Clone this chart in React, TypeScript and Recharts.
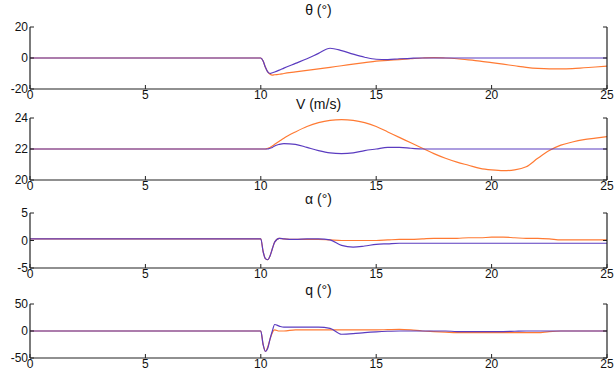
import { LineChart, Line, XAxis, YAxis } from 'recharts';

// ── Data (time in s) ────────────────────────────────────────────────────────

const TIME = [
  0, 10, 10.1, 10.2, 10.3, 10.4, 10.5, 10.6, 10.8, 11, 11.5, 12, 12.5, 13, 13.5, 14, 14.5, 15, 15.5, 16,
  16.5, 17, 17.5, 18, 18.5, 19, 19.5, 20, 20.5, 21, 21.5, 22, 22.5, 23, 23.5, 24, 24.5, 25,
];

const THETA_ORANGE = [
  0, 0, -2, -6, -9, -10.5, -11, -10.8, -10.5, -10, -9, -8, -7, -6, -5, -4, -3, -2, -1.5, -1,
  -0.5, 0, 0.3, 0, -0.5, -1.2, -2, -3, -4, -5, -6, -6.7, -7, -7, -6.8, -6.3, -5.8, -5.2,
];
const THETA_PURPLE = [
  0, 0, -2, -6, -9, -10, -9.5, -9, -7.8, -6.5, -3.5, -0.5, 3, 6.3, 4.8, 2.5, 0.5, -0.8, -1, -0.5,
  -0.2, 0, 0, 0, 0, 0, 0, 0, 0, 0, 0, 0, 0, 0, 0, 0, 0, 0,
];

const V_ORANGE = [
  22, 22, 22, 22, 22.05, 22.1, 22.2, 22.3, 22.5, 22.7, 23.1, 23.45, 23.7, 23.85, 23.9, 23.85, 23.7, 23.45, 23.1, 22.75,
  22.4, 22.05, 21.7, 21.4, 21.15, 20.95, 20.75, 20.65, 20.6, 20.65, 20.85, 21.4, 21.9, 22.25, 22.45, 22.6, 22.7, 22.8,
];
const V_PURPLE = [
  22, 22, 22, 22, 22, 22.05, 22.1, 22.2, 22.3, 22.35, 22.3, 22.1, 21.9, 21.75, 21.7, 21.75, 21.9, 22, 22.1, 22.1,
  22.05, 22, 22, 22, 22, 22, 22, 22, 22, 22, 22, 22, 22, 22, 22, 22, 22, 22,
];

const ALPHA_ORANGE = [
  0.3, 0.3, -2, -3.3, -3.5, -2.8, -1.5, -0.3, 0.4, 0.3, 0.2, 0.2, 0.2, 0.1, 0, 0, 0, 0, 0.1, 0.2,
  0.2, 0.3, 0.4, 0.4, 0.4, 0.5, 0.5, 0.6, 0.6, 0.5, 0.4, 0.4, 0.3, 0.1, 0.1, 0.1, 0.1, 0.1,
];
const ALPHA_PURPLE = [
  0.3, 0.3, -2, -3.3, -3.5, -2.8, -1.5, -0.3, 0.4, 0.3, 0.2, 0.3, 0.3, 0.1, -0.9, -1.2, -1, -0.7, -0.6, -0.5,
  -0.5, -0.5, -0.5, -0.5, -0.5, -0.5, -0.5, -0.5, -0.5, -0.5, -0.5, -0.5, -0.5, -0.5, -0.5, -0.5, -0.5, -0.5,
];

const Q_ORANGE = [
  0, 0, -25, -38, -30, -15, -3, 2, 0, 0, 2, 2, 2, 2, 2, 2, 2, 2, 2.5, 3,
  2, 0, -1, -2, -3, -3, -3, -3, -3, -3, -3, -3, -1, 0, 0, 0, 0, 0,
];
const Q_PURPLE = [
  0, 0, -25, -38, -32, -15, 0, 12, 9, 7, 7, 7, 7, 5, -6, -5, -3, -1.5, -0.5, 0,
  0, 0, 0, 0, -1, -1, -1, -1, -1, -0.5, 0, 0, 0, 0, 0, 0, 0, 0,
];

const X_TICKS = [0, 5, 10, 15, 20, 25];

const ORANGE = '#FF7A33';
const PURPLE = '#5B3CC0';
const AXIS = '#222';
const FONT = '"Liberation Sans", Arial, sans-serif';

interface PanelProps {
  title: string;
  top: number;      // page y of the plot box top
  bottom: number;   // page y of the plot box bottom
  titleY: number;
  domain: [number, number];
  yTicks: number[];
  orange: number[];
  purple: number[];
}

function Panel({ title, top, bottom, titleY, domain, yTicks, orange, purple }: PanelProps) {
  const data = TIME.map((t, i) => ({ t, a: orange[i], b: purple[i] }));
  const padTop = 6;
  const axisH = 22;
  const h = bottom - top + padTop + axisH;
  const tickStyle = { fontSize: 12, fill: '#111', fontFamily: FONT };

  return (
    <>
      <div style={{
        position: 'absolute', left: 30, width: 577, top: titleY - 8, height: 16,
        textAlign: 'center', fontSize: 14, lineHeight: '16px', fontFamily: FONT, color: '#111',
      }}>
        {title}
      </div>
      <div style={{ position: 'absolute', left: 0, top: top - padTop }}>
        <LineChart width={615} height={h} data={data} margin={{ top: padTop, right: 0, bottom: 0, left: 0 }}>
          <XAxis
            xAxisId="b"
            dataKey="t"
            type="number"
            domain={[0, 25]}
            ticks={X_TICKS}
            height={axisH}
            tickSize={-4}
            tickMargin={5}
            tick={tickStyle}
            axisLine={{ stroke: AXIS, strokeWidth: 1.2 }}
            tickLine={{ stroke: AXIS }}
            interval={0}
          />
          <XAxis
            xAxisId="t"
            orientation="top"
            dataKey="t"
            type="number"
            domain={[0, 25]}
            ticks={X_TICKS}
            height={0}
            tickSize={-4}
            tickFormatter={() => ''}
            axisLine={{ stroke: AXIS, strokeWidth: 1.2 }}
            tickLine={{ stroke: AXIS }}
            interval={0}
          />
          <YAxis
            yAxisId="l"
            domain={domain}
            ticks={yTicks}
            width={30}
            tickSize={-4}
            tickMargin={6}
            tick={tickStyle}
            axisLine={{ stroke: AXIS, strokeWidth: 1.2 }}
            tickLine={{ stroke: AXIS }}
            interval={0}
            allowDataOverflow
          />
          <YAxis
            yAxisId="r"
            orientation="right"
            domain={domain}
            ticks={yTicks}
            width={8}
            tickSize={-4}
            tickFormatter={() => ''}
            axisLine={{ stroke: AXIS, strokeWidth: 1.2 }}
            tickLine={{ stroke: AXIS }}
            interval={0}
            allowDataOverflow
          />
          <Line xAxisId="b" yAxisId="l" dataKey="a" type="monotone" stroke={ORANGE} strokeWidth={1.2} dot={false} isAnimationActive={false} />
          <Line xAxisId="b" yAxisId="l" dataKey="b" type="monotone" stroke={PURPLE} strokeWidth={1.2} dot={false} isAnimationActive={false} />
        </LineChart>
      </div>
    </>
  );
}

export default function App() {
  return (
    <div style={{ position: 'absolute', left: 0, top: 0, width: 615, height: 371, background: '#fff' }}>
      <Panel title="θ (°)" top={27} bottom={89} titleY={10} domain={[-20, 20]} yTicks={[-20, 0, 20]} orange={THETA_ORANGE} purple={THETA_PURPLE} />
      <Panel title="V (m/s)" top={118} bottom={180} titleY={104} domain={[20, 24]} yTicks={[20, 22, 24]} orange={V_ORANGE} purple={V_PURPLE} />
      <Panel title="α (°)" top={213} bottom={268} titleY={199} domain={[-5, 5]} yTicks={[-5, 0, 5]} orange={ALPHA_ORANGE} purple={ALPHA_PURPLE} />
      <Panel title="q (°)" top={304} bottom={358} titleY={290} domain={[-50, 50]} yTicks={[-50, 0, 50]} orange={Q_ORANGE} purple={Q_PURPLE} />
    </div>
  );
}
